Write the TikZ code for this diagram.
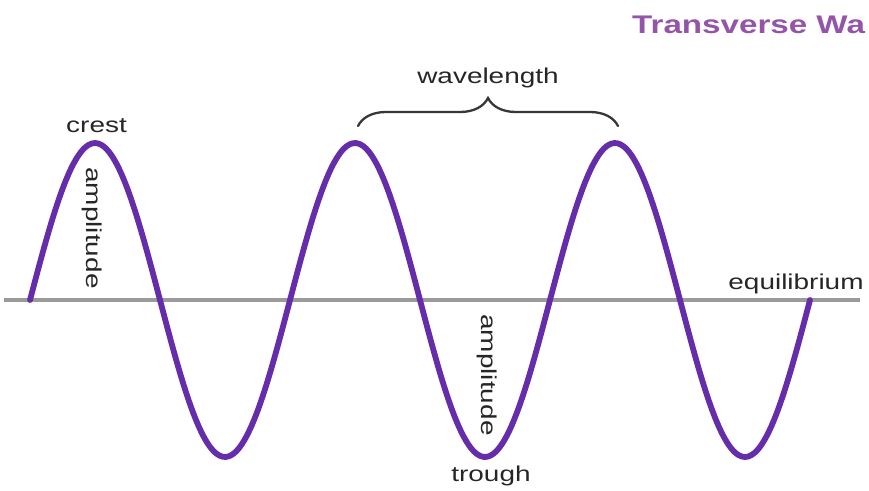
\documentclass[tikz,border=0pt]{standalone}
\usepackage{fontspec}
\newfontfamily\labfont{Liberation Sans}[FakeStretch=1.3]
\usetikzlibrary{decorations.pathreplacing}
\definecolor{wavecol}{RGB}{102,45,170}
\definecolor{titlecol}{RGB}{148,85,168}
\definecolor{eqcol}{RGB}{155,155,155}
\definecolor{bracecol}{RGB}{55,55,55}
\tikzset{
  lab/.style={inner sep=0pt, font=\labfont\fontsize{21.5}{25}\selectfont, text=black!85},
  titlestyle/.style={inner sep=0pt, font=\labfont\bfseries\fontsize{25.5}{29}\selectfont, text=titlecol},
  wave/.style={draw=wavecol, line width=5.8pt, line cap=round, line join=round},
  eqline/.style={draw=eqcol, line width=3.5pt},
  bracestyle/.style={draw=bracecol, line width=2.3pt, line cap=round, decorate, decoration={brace, amplitude=28pt, aspect=0.5}}
}
\begin{document}
\begin{tikzpicture}[x=1pt, y=1pt]
  \useasboundingbox (0,0) rectangle (869,-490);
  \clip (0,0) rectangle (869,-490);
  % equilibrium line
  \coordinate (eqL) at (4,-300);
  \coordinate (eqR) at (860,-300);
  \draw[eqline] (eqL) -- (eqR);
  % wave
  \draw[wave] plot[domain=30:810, samples=240, smooth] (\x, {-300 + 157*sin(((\x-30)/260)*360)});
  % brace
  \coordinate (bl) at (358,-126);
  \coordinate (br) at (618,-126);
  \draw[bracestyle] (bl) -- (br);
  % labels
  \node[titlestyle, anchor=base west] (title) at (632,-33) {Transverse Wa};
  \node[lab, anchor=base] (wl) at (488,-83) {wavelength};
  \node[lab, anchor=base] (crest) at (96.5,-132) {crest};
  \node[lab, anchor=base] (eq) at (796,-289) {equilibrium};
  \node[lab, anchor=base] (trough) at (491,-481) {trough};
  \node[lab, rotate=-90] (amp1) at (92.5,-228) {amplitude};
  \node[lab, rotate=-90] (amp2) at (487,-375) {amplitude};
\end{tikzpicture}
\end{document}
